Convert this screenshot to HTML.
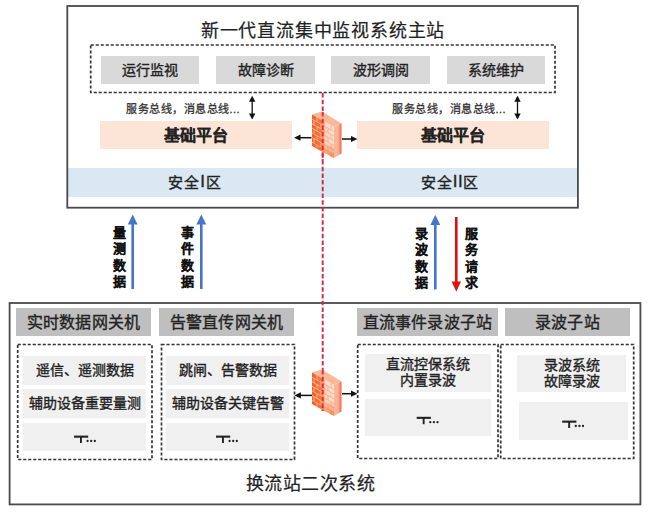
<!DOCTYPE html>
<html lang="zh-CN"><head><meta charset="utf-8">
<style>
html,body{margin:0;padding:0;background:#fff;}
body{width:648px;height:512px;position:relative;overflow:hidden;font-family:"Liberation Sans",sans-serif;color:#222;-webkit-text-stroke:0.35px #222;}
.b{position:absolute;box-sizing:border-box;padding-bottom:2px;display:flex;align-items:center;justify-content:center;text-align:center;white-space:nowrap;}
.t{position:absolute;white-space:nowrap;line-height:1;}
.g1{background:#d9d9d9;font-size:14px;}
.pe{background:#fce4d6;font-size:16px;font-weight:bold;-webkit-text-stroke:0.1px #222;}
.hd{background:#bfbfbf;font-size:16px;letter-spacing:0.2px;}
.in{background:#f0f0f0;font-size:14px;line-height:16px;}
.vt{position:absolute;font-size:13px;font-weight:bold;-webkit-text-stroke:0.2px #111;color:#111;line-height:16.3px;width:16px;text-align:center;white-space:normal;}
svg{position:absolute;left:0;top:0;}
</style></head><body>

<!-- filled boxes -->
<div class="b g1" style="left:101px;top:56px;width:98px;height:28px;">运行监视</div>
<div class="b g1" style="left:216px;top:56px;width:99px;height:28px;">故障诊断</div>
<div class="b g1" style="left:331px;top:56px;width:99px;height:28px;">波形调阅</div>
<div class="b g1" style="left:447px;top:56px;width:98px;height:28px;">系统维护</div>

<div class="b pe" style="left:100px;top:121px;width:192px;height:28px;">基础平台</div>
<div class="b pe" style="left:357px;top:121px;width:192px;height:28px;">基础平台</div>

<div class="b" style="left:68px;top:168px;width:509px;height:29px;background:#d9e8f2;"></div>
<div class="b" style="left:68px;top:168px;width:254px;height:29px;font-size:15px;letter-spacing:0.6px;">安全<span style="font-size:17px;margin:0 1px;">I</span>区</div>
<div class="b" style="left:322px;top:168px;width:256px;height:29px;font-size:15px;letter-spacing:0.6px;">安全<span style="font-size:17px;letter-spacing:0.5px;margin-left:0.5px;">II</span>区</div>

<div class="b hd" style="left:16px;top:308px;width:135px;height:28px;">实时数据网关机</div>
<div class="b hd" style="left:159px;top:308px;width:135px;height:28px;">告警直传网关机</div>
<div class="b hd" style="left:357px;top:308px;width:141px;height:28px;">直流事件录波子站</div>
<div class="b hd" style="left:505px;top:308px;width:125px;height:28px;">录波子站</div>

<div class="b in" style="left:23px;top:356px;width:123px;height:29px;">遥信、遥测数据</div>
<div class="b in" style="left:23px;top:389px;width:123px;height:29px;">辅助设备重要量测</div>
<div class="b in" style="left:23px;top:423px;width:123px;height:28px;"></div>
<div class="b in" style="left:166px;top:356px;width:123px;height:29px;">跳闸、告警数据</div>
<div class="b in" style="left:166px;top:389px;width:123px;height:29px;">辅助设备关键告警</div>
<div class="b in" style="left:166px;top:423px;width:123px;height:28px;"></div>
<div class="b in" style="left:365px;top:354px;width:126px;height:38px;">直流控保系统<br>内置录波</div>
<div class="b in" style="left:365px;top:399px;width:126px;height:37px;"></div>
<div class="b in" style="left:517px;top:355px;width:109px;height:37px;">录波系统<br>故障录波</div>
<div class="b in" style="left:519px;top:402px;width:109px;height:38px;"></div>

<!-- texts -->
<div class="t" style="left:0;width:646px;top:22px;text-align:center;font-size:18px;letter-spacing:0.8px;-webkit-text-stroke:0.2px #222;">新一代直流集中监视系统主站</div>
<div class="t" style="left:126px;top:104px;font-size:11px;letter-spacing:0.5px;color:#333;-webkit-text-stroke:0.3px #333;">服务总线，消息总线...</div>
<div class="t" style="left:392px;top:104px;font-size:11px;letter-spacing:0.5px;color:#333;-webkit-text-stroke:0.3px #333;">服务总线，消息总线...</div>
<div class="t" style="left:0;width:621px;top:475px;text-align:center;font-size:18px;letter-spacing:0.45px;-webkit-text-stroke:0.2px #222;">换流站二次系统</div>

<div class="vt" style="left:111px;top:225px;">量测数据</div>
<div class="vt" style="left:179px;top:225px;">事件数据</div>
<div class="vt" style="left:413px;top:226px;">录波数据</div>
<div class="vt" style="left:463px;top:226px;">服务请求</div>

<svg width="648" height="512" viewBox="0 0 648 512">
  <defs>
    <marker id="ah" viewBox="0 0 10 10" refX="10" refY="5" markerWidth="6" markerHeight="6" orient="auto-start-reverse" markerUnits="userSpaceOnUse">
      <path d="M0,0 L10,5 L0,10 z" fill="#111"/>
    </marker>
    <linearGradient id="fwL" x1="0" y1="0" x2="1" y2="0">
      <stop offset="0" stop-color="#f0602a"/><stop offset="0.42" stop-color="#f4783e"/><stop offset="0.6" stop-color="#fbd4c0"/><stop offset="1" stop-color="#fde2d4"/>
    </linearGradient>
    <linearGradient id="fwR" x1="0" y1="0" x2="1" y2="0">
      <stop offset="0" stop-color="#fab89a"/><stop offset="0.55" stop-color="#f9b094"/><stop offset="1" stop-color="#ee6450"/>
    </linearGradient>
    <linearGradient id="fwS" x1="0" y1="0" x2="0" y2="1">
      <stop offset="0" stop-color="#f06a30" stop-opacity="0"/><stop offset="0.65" stop-color="#f06a30" stop-opacity="0"/><stop offset="1" stop-color="#f06a30" stop-opacity="0.75"/>
    </linearGradient>
    <filter id="soft" x="-20%" y="-20%" width="140%" height="140%"><feGaussianBlur stdDeviation="0.45"/></filter>
    <g id="fw" transform="translate(312,111.5)" filter="url(#soft)">
      <path d="M0,3 L10,0 L29.5,12 L22,15.5 Z" fill="#f9b898"/>
      <path d="M0,3 L22,15.5 L22,46.5 L0,34.5 Z" fill="url(#fwL)"/>
      <g transform="matrix(1,0.568,0,1,0,3)" stroke="#f47c40" stroke-width="0.8" opacity="0.55">
        <path d="M10,4.6 H22 M10,9.2 H22 M10,13.8 H22 M10,18.4 H22 M10,23 H22 M10,27.6 H22"/>
        <path d="M12,0 V4.6 M19,0 V4.6 M16,4.6 V9.2 M12,9.2 V13.8 M19,9.2 V13.8 M16,13.8 V18.4 M12,18.4 V23 M19,18.4 V23 M16,23 V27.6 M12,27.6 V32 M19,27.6 V32"/>
      </g>
      <g transform="matrix(1,0.568,0,1,0,3)" stroke="#fdc0a0" stroke-width="0.9" opacity="0.9">
        <path d="M0,4.6 H11 M0,9.2 H11 M0,13.8 H11 M0,18.4 H11 M0,23 H11 M0,27.6 H11"/>
        <path d="M5,0 V4.6 M2,4.6 V9.2 M9,4.6 V9.2 M5,9.2 V13.8 M2,13.8 V18.4 M9,13.8 V18.4 M5,18.4 V23 M2,23 V27.6 M9,23 V27.6 M5,27.6 V32"/>
      </g>
      <path d="M0,3 L22,15.5 L22,46.5 L0,34.5 Z" fill="url(#fwS)"/>
      <path d="M22,15.5 L29.5,12 L29.5,42 L22,46.5 Z" fill="url(#fwR)"/>
    </g>
  </defs>
  <!-- outer boxes -->
  <rect x="67.3" y="6" width="510.6" height="201.7" fill="none" stroke="#4a4a4a" stroke-width="1.8"/>
  <rect x="9.6" y="303" width="630.8" height="201.4" fill="none" stroke="#4a4a4a" stroke-width="1.8"/>
  <!-- dashed boxes -->
  <g fill="none" stroke="#333" stroke-width="1.7" stroke-dasharray="3.1 1.9">
    <rect x="90.7" y="45" width="464.3" height="47.5"/>
    <rect x="17.7" y="344.5" width="134.3" height="115"/>
    <rect x="161.5" y="344.5" width="133" height="115"/>
    <rect x="357.7" y="344.5" width="140.3" height="114"/>
    <rect x="500.7" y="344.5" width="133" height="114"/>
  </g>
  <!-- double arrows -->
  <g stroke="#111" stroke-width="1.3" fill="none">
    <line x1="252.2" y1="98" x2="252.2" y2="117"/>
    <line x1="517.5" y1="97" x2="517.5" y2="118"/>
  </g>
  <g fill="#111">
    <path d="M249,101.7 L252.2,95.8 L255.4,101.7 Z"/><path d="M249,113.5 L252.2,119.5 L255.4,113.5 Z"/>
    <path d="M514.3,101.7 L517.5,95.8 L520.7,101.7 Z"/><path d="M514.3,113.5 L517.5,119.5 L520.7,113.5 Z"/>
  </g>
  <!-- red dashed line -->
  <line x1="322.7" y1="93" x2="322.7" y2="411" stroke="#cc2a42" stroke-width="1.9" stroke-dasharray="4.5 2.2"/>
  <!-- firewalls -->
  <use href="#fw"/>
  <use href="#fw" y="258"/>
  <line x1="322.7" y1="112" x2="322.7" y2="160" stroke="#e82030" stroke-width="2" stroke-dasharray="4.5 2.2" opacity="0.9"/>
  <line x1="322.7" y1="370" x2="322.7" y2="411" stroke="#e82030" stroke-width="2" stroke-dasharray="4.5 2.2" opacity="0.9"/>
  <!-- firewall arrows -->
  <g stroke="#111" stroke-width="1.5">
    <line x1="311.5" y1="137.7" x2="300" y2="137.7"/>
    <line x1="342" y1="139" x2="351" y2="139"/>
    <line x1="312" y1="395.4" x2="300" y2="395.4"/>
    <line x1="342" y1="393.7" x2="351" y2="393.7"/>
  </g>
  <g fill="#111">
    <path d="M294,137.7 L300.5,134.6 L300.5,140.8 Z"/>
    <path d="M357.5,139 L351,135.9 L351,142.1 Z"/>
    <path d="M294.4,395.4 L300.9,392.3 L300.9,398.5 Z"/>
    <path d="M357.5,393.7 L351,390.6 L351,396.8 Z"/>
  </g>
  <!-- blue/red arrows -->
  <g stroke="#4276c6" stroke-width="2.6">
    <line x1="132.7" y1="224" x2="132.7" y2="289"/>
    <line x1="201.3" y1="224" x2="201.3" y2="289"/>
    <line x1="435.3" y1="224" x2="435.3" y2="289.4"/>
  </g>
  <g fill="#4276c6">
    <path d="M132.7,214.4 L137.6,224.6 L127.8,224.6 Z"/>
    <path d="M201.3,214.4 L206.2,224.6 L196.4,224.6 Z"/>
    <path d="M435.3,214.8 L440.2,225 L430.4,225 Z"/>
  </g>
  <line x1="456.3" y1="217" x2="456.3" y2="283" stroke="#e01010" stroke-width="2.6"/>
  <path d="M456.3,291.5 L461,281.6 L451.6,281.6 Z" fill="#e01010"/>
  <!-- T... -->
  <g id="tdots" fill="#222">
    <rect x="74" y="435.6" width="14.2" height="2.1"/>
    <rect x="80" y="436" width="1.9" height="7"/>
    <circle cx="87.6" cy="441" r="1.15"/><circle cx="91.2" cy="441" r="1.15"/><circle cx="94.8" cy="441" r="1.15"/>
  </g>
  <use href="#tdots" x="142"/>
  <use href="#tdots" x="342.7" y="-18.8"/>
  <use href="#tdots" x="488.2" y="-15"/>
</svg>
</body></html>
